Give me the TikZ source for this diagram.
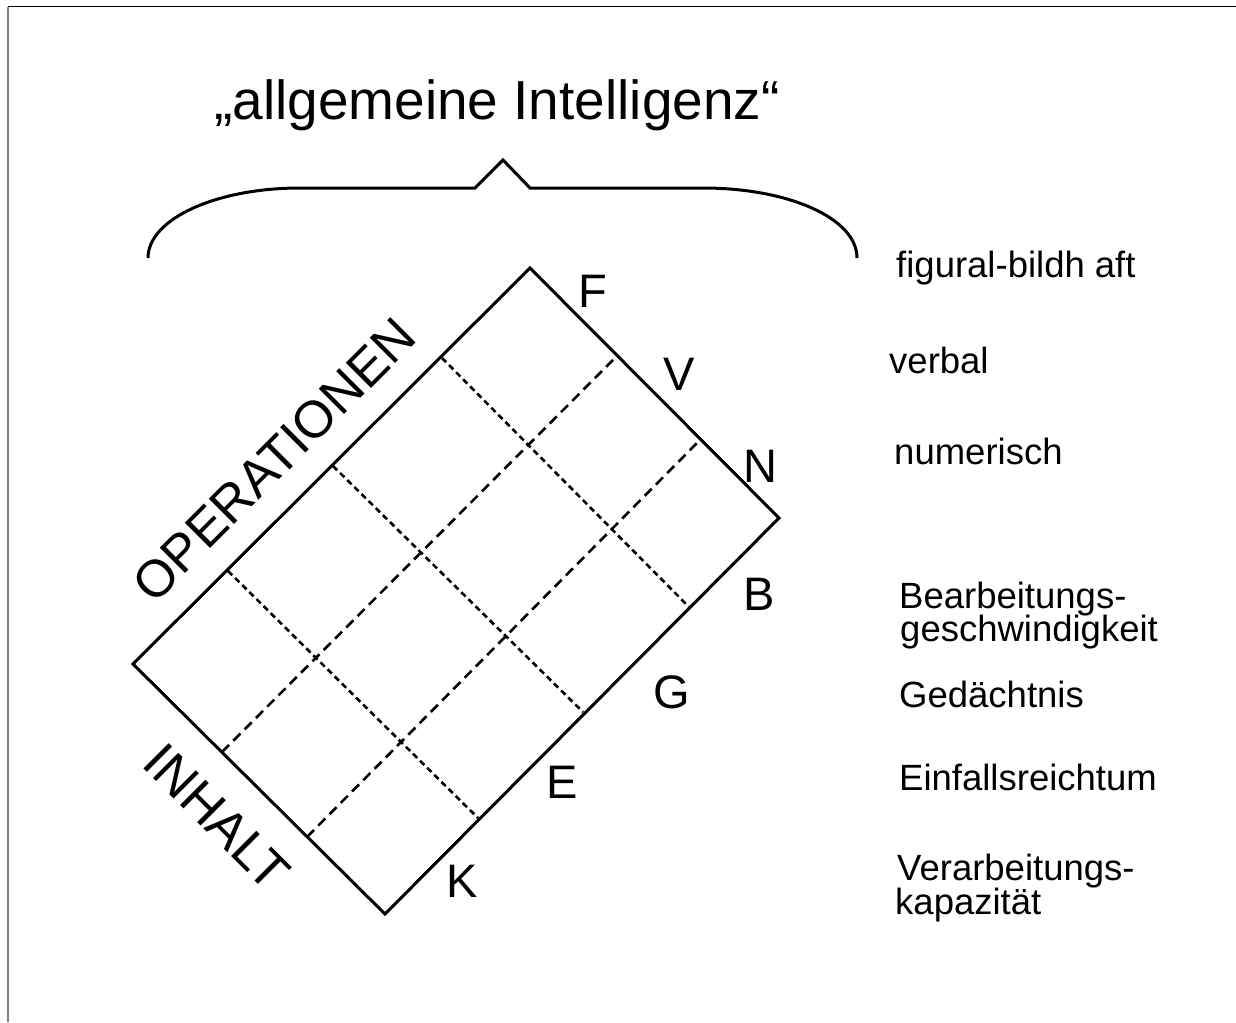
\documentclass[tikz,border=0pt]{standalone}
\usepackage{fontspec}
\setmainfont{Liberation Sans}
\begin{document}
\begin{tikzpicture}[x=1pt,y=-1pt,
  edge/.style={line width=3pt, line join=miter},
  gridA/.style={line width=2.6pt, dash pattern=on 6pt off 4pt},
  gridB/.style={line width=2.6pt, dash pattern=on 10pt off 6pt},
  letter/.style={anchor=base west, inner sep=0pt, font=\fontsize{47}{50}\selectfont},
  cat/.style={anchor=base west, inner sep=0pt, font=\fontsize{36.5}{40}\selectfont},
  axis/.style={inner sep=0pt, font=\fontsize{52}{56}\selectfont}]
\useasboundingbox (0,0) rectangle (1236,1022);
% frame
\draw[line width=1pt] (8,7) -- (1236,7);
\draw[gray, line width=1.6pt] (8,7) -- (8,1022);
% title
\node[anchor=base, inner sep=0pt, font=\fontsize{55}{60}\selectfont] (title) at (497,120) {„allgemeine Intelligenz“};
% brace
\draw[line width=3pt, line join=miter] (148,258) .. controls (148,219) and (216,188) .. (300,188) -- (475,188) -- (503,160) -- (530,188) -- (703,188) .. controls (788,188) and (857,218) .. (857,258);
% rectangle corners
\coordinate (L) at (133,664);
\coordinate (T) at (530,268);
\coordinate (R) at (779,518);
\coordinate (Bt) at (385,914);
% grid points
\coordinate (a1) at (228,571); \coordinate (b1) at (478,818);
\coordinate (a2) at (333,466); \coordinate (b2) at (583,712);
\coordinate (a3) at (442,358); \coordinate (b3) at (690,608);
\coordinate (c1) at (222,752); \coordinate (d1) at (613,360);
\coordinate (c2) at (307,837); \coordinate (d2) at (698,442);
\draw[gridA] (a1) -- (b1);
\draw[gridA] (a2) -- (b2);
\draw[gridA] (a3) -- (b3);
\draw[gridB] (c1) -- (d1);
\draw[gridB] (c2) -- (d2);
\draw[edge] (L) -- (T) -- (R) -- (Bt) -- cycle;
% axis labels
\node[axis, rotate=45] (ops) at (274,460) {OPERATIONEN};
\node[axis, rotate=-45] (inh) at (217,817) {INHALT};
% letters
\node[letter] (F) at (578,307) {F};
\node[letter] (V) at (663,390) {V};
\node[letter] (N) at (743,482) {N};
\node[letter] (B) at (743,610) {B};
\node[letter] (G) at (653,708) {G};
\node[letter] (E) at (546,798) {E};
\node[letter] (K) at (446,897) {K};
% categories
\node[cat] (fig) at (896,277) {figural-bildh aft};
\node[cat] (verb) at (889,373) {verbal};
\node[cat] (num) at (894,464) {numerisch};
\node[cat] (bea1) at (899,608) {Bearbeitungs-};
\node[cat] (bea2) at (900,641) {geschwindigkeit};
\node[cat] (ged) at (899,707) {Gedächtnis};
\node[cat] (einf) at (899,790) {Einfallsreichtum};
\node[cat] (ver1) at (897,880) {Verarbeitungs-};
\node[cat] (ver2) at (895,914) {kapazität};
\end{tikzpicture}
\end{document}
